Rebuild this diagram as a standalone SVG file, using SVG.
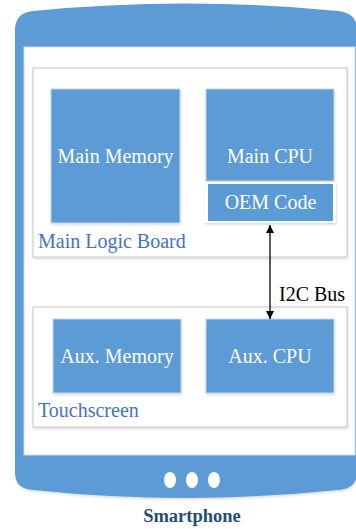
<svg xmlns="http://www.w3.org/2000/svg" width="356" height="529" viewBox="0 0 356 529">
<defs>
<style>
.blk{fill:#5b9bd5;stroke:#c9d6e3;stroke-width:1;filter:url(#sh)}
.frame{fill:#fff;stroke:#cfcfcf;stroke-width:1.2;filter:url(#sh)}
.wt{font-family:"Liberation Serif",serif;font-size:20px;fill:#fff;text-anchor:middle}
.lb{font-family:"Liberation Serif",serif;font-size:20px;fill:#4472c4}
.bk{font-family:"Liberation Serif",serif;font-size:20px;fill:#000}
</style>
<filter id="sh" x="-10%" y="-10%" width="120%" height="130%">
<feDropShadow dx="0.5" dy="1.5" stdDeviation="1" flood-color="#000" flood-opacity="0.15"/>
</filter>
<marker id="ah" viewBox="0 0 10 10" refX="10" refY="5" markerWidth="8" markerHeight="10" markerUnits="userSpaceOnUse" orient="auto-start-reverse">
<path d="M0,0 L10,5 L0,10 Z" fill="#000"/>
</marker>
</defs>
<g id="phone">
<path d="M15,30 Q15,13 33,11 Q186,-4 338,11 Q357,13 357,30 L357,472 Q357,489 338,490 Q186,506 33,490 Q15,489 15,472 Z" fill="#5b9bd5" filter="url(#sh)"/>
<rect x="24" y="47" width="331" height="408" fill="#fff" stroke="#d3dbe3" stroke-width="1"/>
<ellipse cx="170" cy="480" rx="6" ry="8" fill="#fff"/>
<ellipse cx="192" cy="480" rx="6" ry="8" fill="#fff"/>
<ellipse cx="214" cy="480" rx="6" ry="8" fill="#fff"/>
<text x="192" y="522" text-anchor="middle" font-family="Liberation Serif,serif" font-size="18.5" font-weight="bold" fill="#1f4e79">Smartphone</text>
</g>
<g id="main-logic-board">
<rect class="frame" x="33" y="68" width="314" height="189"/>
<text class="lb" x="38" y="248">Main Logic Board</text>
</g>
<g id="main-memory">
<rect class="blk" x="51" y="89" width="129" height="134"/>
<text class="wt" x="115.5" y="163">Main Memory</text>
</g>
<g id="main-cpu">
<rect class="blk" x="206" y="89" width="128" height="92"/>
<text class="wt" x="270" y="163">Main CPU</text>
</g>
<g id="oem-code">
<rect x="205" y="182" width="131" height="41" fill="#fff" filter="url(#sh)"/>
<rect x="208" y="184" width="125" height="37" fill="#5b9bd5"/>
<text class="wt" x="270.5" y="209">OEM Code</text>
</g>
<g id="touchscreen">
<rect class="frame" x="33" y="307" width="314" height="120"/>
<text class="lb" x="38" y="417">Touchscreen</text>
</g>
<g id="aux-memory">
<rect class="blk" x="53" y="319" width="128" height="74"/>
<text class="wt" x="117" y="363">Aux. Memory</text>
</g>
<g id="aux-cpu">
<rect class="blk" x="206" y="319" width="128" height="74"/>
<text class="wt" x="270" y="363">Aux. CPU</text>
</g>
<g id="connectors">
<line x1="270" y1="225" x2="270" y2="319" stroke="#000" stroke-width="1.3" marker-start="url(#ah)" marker-end="url(#ah)"/>
<text class="bk" x="279" y="301">I2C Bus</text>
</g>
</svg>
